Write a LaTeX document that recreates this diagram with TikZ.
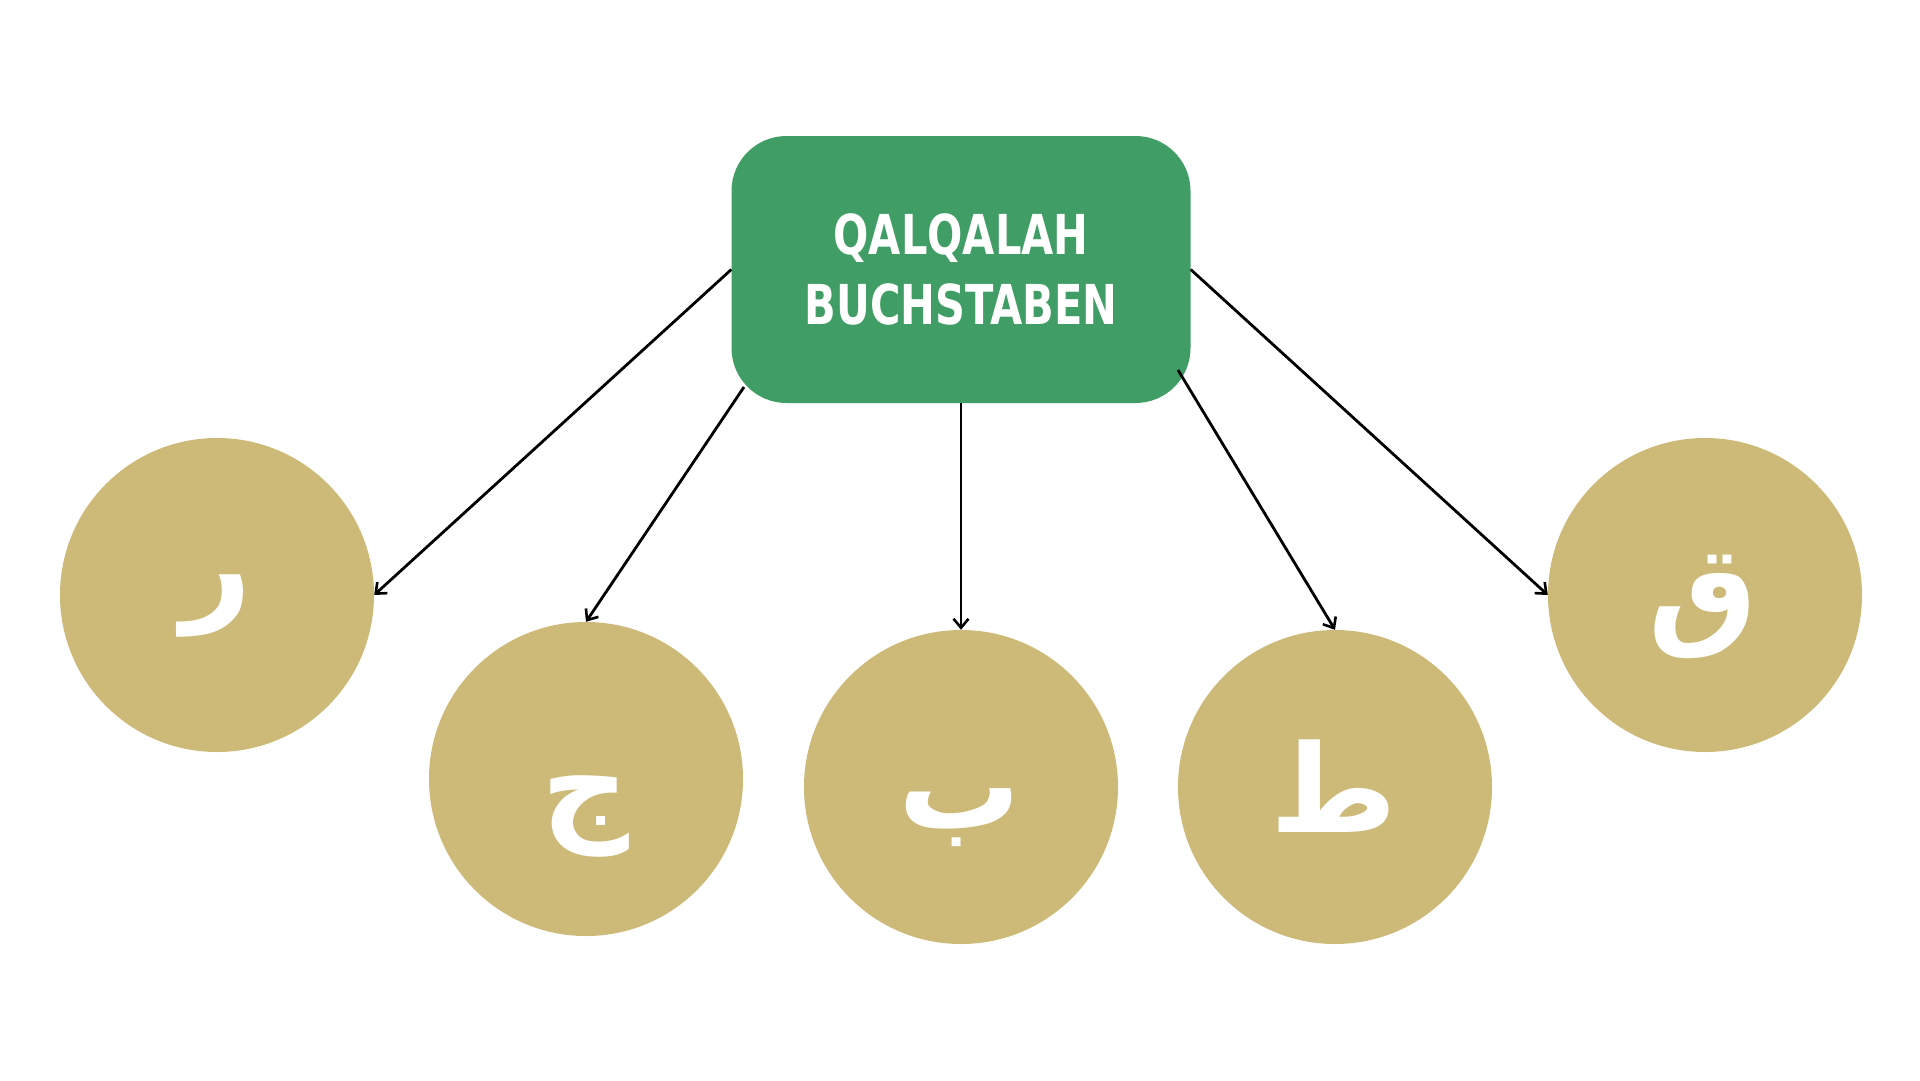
\documentclass[tikz,border=0pt]{standalone}
\usepackage{fontspec}
\usepackage{graphicx}
\usetikzlibrary{arrows.meta}
\setmainfont{Liberation Sans}
\TeXXeTstate=1
\newfontfamily\arabicfont[Script=Arabic]{DejaVu Sans}
\newfontfamily\titlefont{DejaVu Sans Condensed Bold}
\definecolor{boxgreen}{RGB}{64,157,101}
\definecolor{circtan}{RGB}{205,185,120}
\tikzset{
  mainbox/.style={fill=boxgreen, rounded corners=55pt, minimum width=459pt, minimum height=267pt,
    align=center, text=white, font=\titlefont\fontsize{55}{70}\selectfont, inner sep=0pt},
  letter/.style={circle, fill=circtan, minimum size=314pt, inner sep=0pt},
  glyph/.style={text=white, font=\arabicfont\bfseries\fontsize{122}{130}\selectfont, inner sep=0pt},
  conn/.style={draw=black, line width=2.8pt, -{Straight Barb[length=9pt,width=15pt,line width=2.6pt]}}
}
\begin{document}
\begin{tikzpicture}[x=1pt,y=-1pt]
\useasboundingbox (0,0) rectangle (1920,1080);
\fill[white] (0,0) rectangle (1920,1080);
\node[mainbox] (main) at (961,269.5) {\scalebox{0.84}[1]{QALQALAH}\\\scalebox{0.84}[1]{BUCHSTABEN}};
\node[letter] (c1) at (217,595) {};
\node[letter] (c2) at (586,779) {};
\node[letter] (c3) at (961,787) {};
\node[letter] (c4) at (1335,787) {};
\node[letter] (c5) at (1705,595) {};
\node[glyph] (g1) at (217,606) {\beginR ر\endR};
\node[glyph] (g2) at (585,816) {\beginR ج\endR};
\node[glyph] (g3) at (960,818) {\beginR ب\endR};
\node[glyph] (g4) at (1334,786) {\beginR ط\endR};
\node[glyph] (g5) at (1703,607) {\beginR ق\endR};
\coordinate (s2) at (744,387);
\coordinate (s4) at (1178,370);
\draw[conn] (main.west) -- (c1.east);
\draw[conn] (s2) -- (c2.north);
\draw[conn] (main.south) -- (c3.north);
\draw[conn] (s4) -- (c4.north);
\draw[conn] (main.east) -- (c5.west);
\end{tikzpicture}
\end{document}
